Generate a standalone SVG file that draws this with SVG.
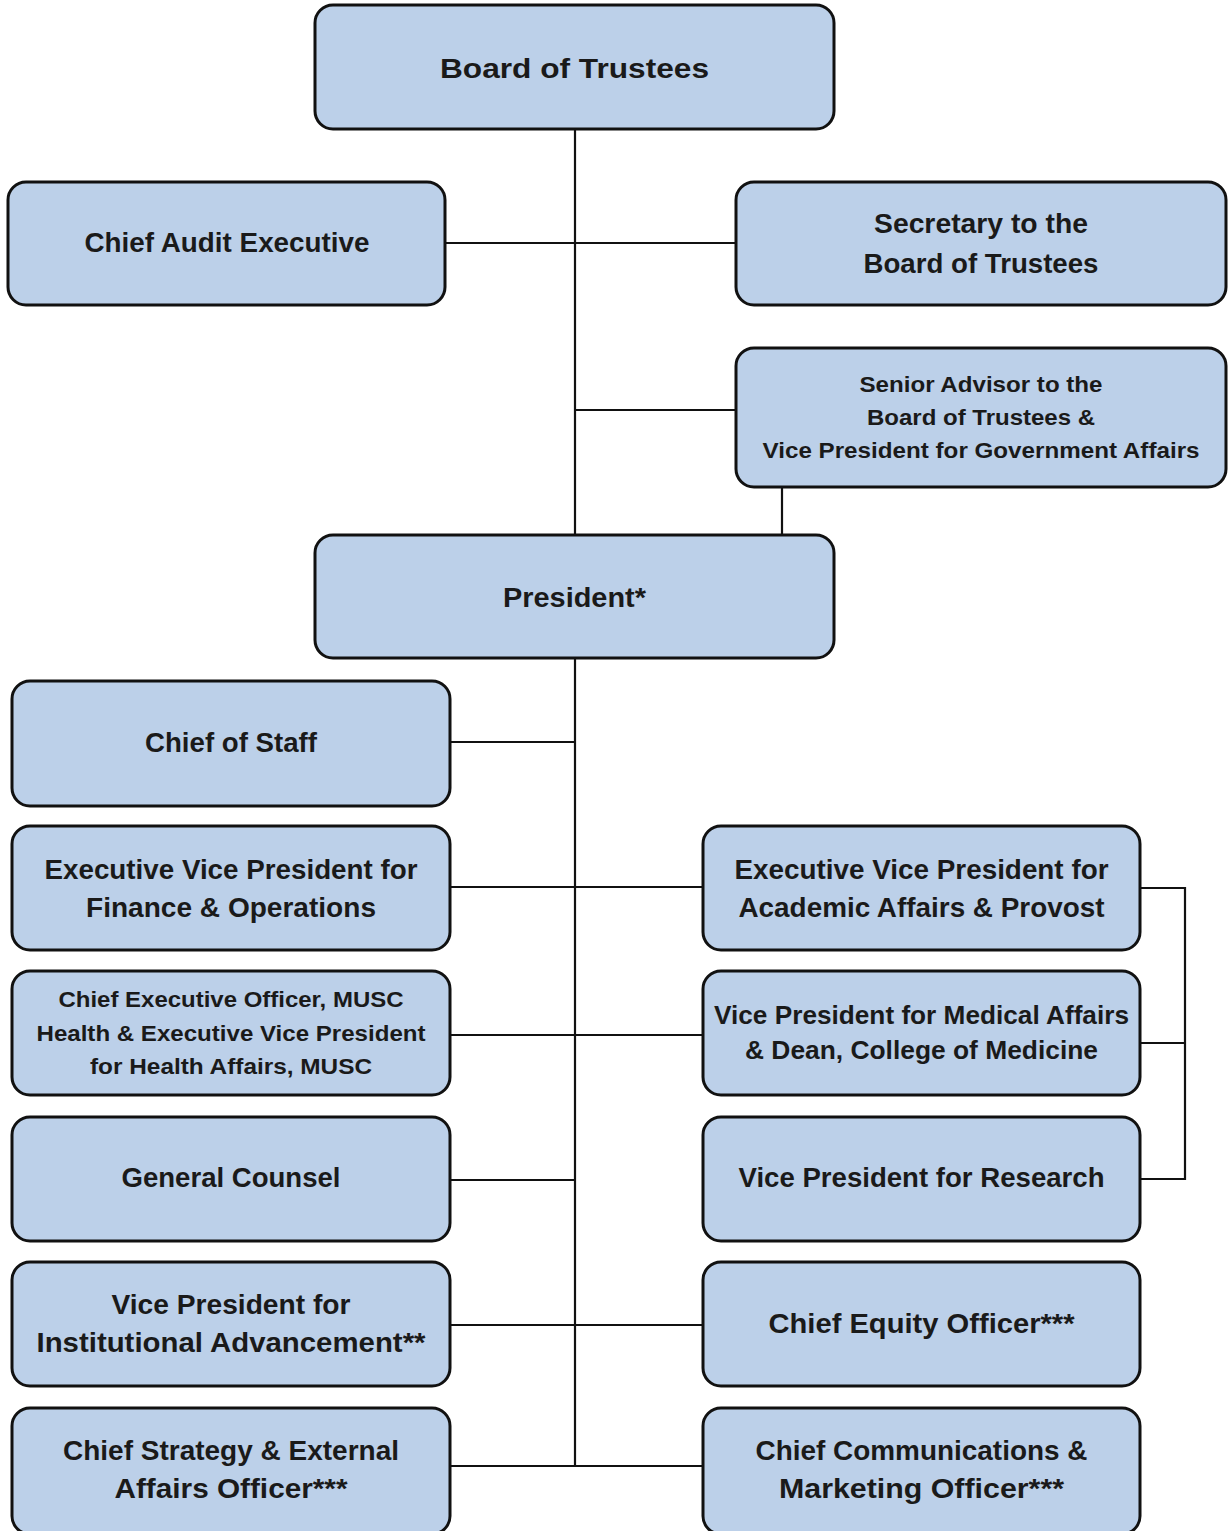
<svg xmlns="http://www.w3.org/2000/svg" width="1231" height="1531" viewBox="0 0 1231 1531">
<style>
.box{fill:#bcd0e9;stroke:#111;stroke-width:3}
.t{font-family:"Liberation Sans",Arial,sans-serif;font-weight:bold;font-size:27px;fill:#1a1a1a;text-anchor:middle}
.s{font-size:22px}
.m{font-size:25px}
.c{stroke:#111;stroke-width:2.2;fill:none}
</style>
<rect width="1231" height="1531" fill="#fff"/>
<g id="connectors">
<line class="c" x1="575" y1="129" x2="575" y2="535"/>
<line class="c" x1="445" y1="243" x2="736" y2="243"/>
<line class="c" x1="575" y1="410" x2="736" y2="410"/>
<line class="c" x1="782" y1="487" x2="782" y2="535"/>
<line class="c" x1="575" y1="658" x2="575" y2="1466"/>
<line class="c" x1="450" y1="742" x2="575" y2="742"/>
<line class="c" x1="450" y1="887" x2="703" y2="887"/>
<line class="c" x1="450" y1="1035" x2="703" y2="1035"/>
<line class="c" x1="450" y1="1180" x2="575" y2="1180"/>
<line class="c" x1="450" y1="1325" x2="703" y2="1325"/>
<line class="c" x1="450" y1="1466" x2="703" y2="1466"/>
<polyline class="c" points="1140,888 1185,888 1185,1179 1140,1179"/>
<line class="c" x1="1140" y1="1043" x2="1185" y2="1043"/>
</g>
<g id="board">
<rect class="box" x="315" y="5" width="519" height="124" rx="18"/>
<text class="t" x="574.5" y="78" textLength="269" lengthAdjust="spacingAndGlyphs">Board of Trustees</text>
</g>
<g id="audit">
<rect class="box" x="8" y="182" width="437" height="123" rx="18"/>
<text class="t" x="227" y="252" textLength="285" lengthAdjust="spacingAndGlyphs">Chief Audit Executive</text>
</g>
<g id="secretary">
<rect class="box" x="736" y="182" width="490" height="123" rx="18"/>
<text class="t" x="981" y="233" textLength="214" lengthAdjust="spacingAndGlyphs">Secretary to the</text>
<text class="t" x="981" y="273" textLength="235" lengthAdjust="spacingAndGlyphs">Board of Trustees</text>
</g>
<g id="senior-advisor">
<rect class="box" x="736" y="348" width="490" height="139" rx="18"/>
<text class="t s" x="981" y="392" textLength="243" lengthAdjust="spacingAndGlyphs">Senior Advisor to the</text>
<text class="t s" x="981" y="425" textLength="228" lengthAdjust="spacingAndGlyphs">Board of Trustees &amp;</text>
<text class="t s" x="981" y="458" textLength="437" lengthAdjust="spacingAndGlyphs">Vice President for Government Affairs</text>
</g>
<g id="president">
<rect class="box" x="315" y="535" width="519" height="123" rx="18"/>
<text class="t" x="574.5" y="607" textLength="143" lengthAdjust="spacingAndGlyphs">President*</text>
</g>
<g id="chief-of-staff">
<rect class="box" x="12" y="681" width="438" height="125" rx="18"/>
<text class="t" x="231" y="752" textLength="172" lengthAdjust="spacingAndGlyphs">Chief of Staff</text>
</g>
<g id="evp-finance">
<rect class="box" x="12" y="826" width="438" height="124" rx="18"/>
<text class="t" x="231" y="879" textLength="373" lengthAdjust="spacingAndGlyphs">Executive Vice President for</text>
<text class="t" x="231" y="917" textLength="290" lengthAdjust="spacingAndGlyphs">Finance &amp; Operations</text>
</g>
<g id="ceo-musc">
<rect class="box" x="12" y="971" width="438" height="124" rx="18"/>
<text class="t s" x="231" y="1007" textLength="345" lengthAdjust="spacingAndGlyphs">Chief Executive Officer, MUSC</text>
<text class="t s" x="231" y="1041" textLength="389" lengthAdjust="spacingAndGlyphs">Health &amp; Executive Vice President</text>
<text class="t s" x="231" y="1074" textLength="282" lengthAdjust="spacingAndGlyphs">for Health Affairs, MUSC</text>
</g>
<g id="general-counsel">
<rect class="box" x="12" y="1117" width="438" height="124" rx="18"/>
<text class="t" x="231" y="1187" textLength="219" lengthAdjust="spacingAndGlyphs">General Counsel</text>
</g>
<g id="vp-advancement">
<rect class="box" x="12" y="1262" width="438" height="124" rx="18"/>
<text class="t" x="231" y="1314" textLength="239" lengthAdjust="spacingAndGlyphs">Vice President for</text>
<text class="t" x="231" y="1352" textLength="389" lengthAdjust="spacingAndGlyphs">Institutional Advancement**</text>
</g>
<g id="chief-strategy">
<rect class="box" x="12" y="1408" width="438" height="126" rx="18"/>
<text class="t" x="231" y="1460" textLength="336" lengthAdjust="spacingAndGlyphs">Chief Strategy &amp; External</text>
<text class="t" x="231" y="1498" textLength="233" lengthAdjust="spacingAndGlyphs">Affairs Officer***</text>
</g>
<g id="evp-academic">
<rect class="box" x="703" y="826" width="437" height="124" rx="18"/>
<text class="t" x="921.5" y="879" textLength="374" lengthAdjust="spacingAndGlyphs">Executive Vice President for</text>
<text class="t" x="921.5" y="917" textLength="366" lengthAdjust="spacingAndGlyphs">Academic Affairs &amp; Provost</text>
</g>
<g id="vp-medical">
<rect class="box" x="703" y="971" width="437" height="124" rx="18"/>
<text class="t m" x="921.5" y="1024" textLength="415" lengthAdjust="spacingAndGlyphs">Vice President for Medical Affairs</text>
<text class="t m" x="921.5" y="1059" textLength="353" lengthAdjust="spacingAndGlyphs">&amp; Dean, College of Medicine</text>
</g>
<g id="vp-research">
<rect class="box" x="703" y="1117" width="437" height="124" rx="18"/>
<text class="t" x="921.5" y="1187" textLength="366" lengthAdjust="spacingAndGlyphs">Vice President for Research</text>
</g>
<g id="chief-equity">
<rect class="box" x="703" y="1262" width="437" height="124" rx="18"/>
<text class="t" x="921.5" y="1333" textLength="306" lengthAdjust="spacingAndGlyphs">Chief Equity Officer***</text>
</g>
<g id="chief-communications">
<rect class="box" x="703" y="1408" width="437" height="126" rx="18"/>
<text class="t" x="921.5" y="1460" textLength="332" lengthAdjust="spacingAndGlyphs">Chief Communications &amp;</text>
<text class="t" x="921.5" y="1498" textLength="285" lengthAdjust="spacingAndGlyphs">Marketing Officer***</text>
</g>
</svg>
